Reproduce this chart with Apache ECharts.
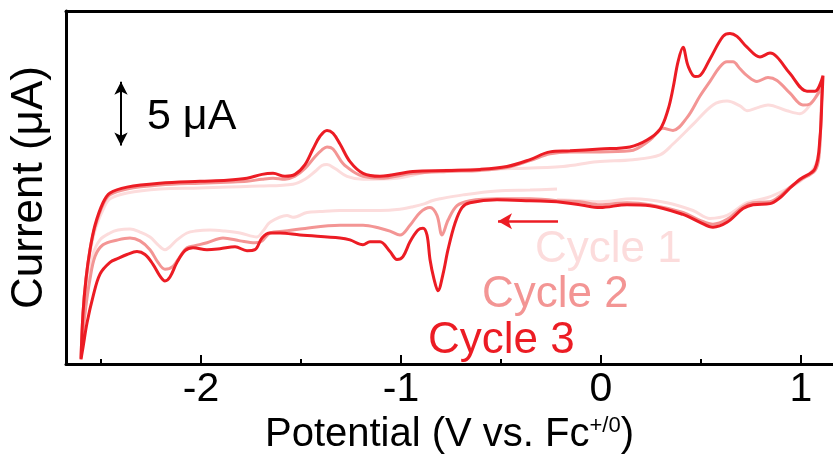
<!DOCTYPE html>
<html>
<head>
<meta charset="utf-8">
<title>Cyclic voltammogram</title>
<script src="https://cdn.jsdelivr.net/npm/echarts@6/dist/echarts.min.js"></script>
<style>
  html, body { margin: 0; padding: 0; background: #fff; }
  #chart { width: 833px; height: 460px; }
</style>
</head>
<body>
<div id="chart"></div>
<script>
// Axis ticks (V vs. Fc+/0)
const majorTicks = [-2, -1, 0, 1];
const minorTicks = [-2.5, -1.5, -0.5, 0.5];

const cycleNames = ['Cycle 1', 'Cycle 2', 'Cycle 3'];
const cycleColors = ['#FCDCDC', '#F39594', '#EC1C24'];

// Each cycle: [potential (V), current (µA)], scanned from -0.22 V negative to -2.6 V,
// then positive to 1.11 V and back to -0.22 V.
const cycle1 = [
  [-0.22,-0.23],[-0.355,-0.31],[-0.52,-0.38],[-0.69,-0.69],[-0.805,-1.0],[-0.845,-1.15],[-0.88,-1.38],[-0.94,-1.62],
  [-1.02,-1.85],[-1.105,-1.92],[-1.19,-1.92],[-1.305,-1.92],[-1.405,-2.0],[-1.47,-2.08],[-1.54,-2.46],[-1.57,-2.31],
  [-1.655,-2.85],[-1.69,-3.54],[-1.72,-4.0],[-1.805,-3.69],[-1.88,-3.54],[-1.955,-3.46],[-2.03,-3.54],[-2.07,-3.69],
  [-2.12,-4.23],[-2.155,-4.77],[-2.18,-5.0],[-2.215,-4.62],[-2.255,-4.0],[-2.305,-3.62],[-2.355,-3.38],[-2.415,-3.46],
  [-2.455,-3.69],[-2.505,-4.23],[-2.54,-5.38],[-2.565,-7.69],[-2.585,-10.77],[-2.6,-13.62],
  [-2.59,-10.0],[-2.575,-7.31],[-2.555,-5.23],[-2.525,-3.23],[-2.485,-1.69],[-2.455,-1.0],[-2.37,-0.54],[-2.205,-0.23],
  [-2.005,-0.15],[-1.705,0],[-1.54,0.15],[-1.48,0.54],[-1.43,1.15],[-1.395,1.62],[-1.37,1.69],[-1.33,1.38],[-1.27,0.77],
  [-1.19,0.54],[-1.02,0.62],[-0.855,1.15],[-0.655,1.31],[-0.44,1.38],[-0.19,1.54],[-0.02,1.92],[0.16,2.08],[0.295,2.46],
  [0.36,3.31],[0.46,4.85],[0.56,6.38],[0.63,6.69],[0.695,6.31],[0.73,5.92],[0.78,6.15],[0.835,6.38],[0.93,5.92],
  [0.995,5.69],[1.06,6.69],[1.105,7.69],
  [1.1,5.38],[1.09,2.69],[1.06,1.31],[0.995,0.38],[0.93,-0.23],[0.83,-0.92],[0.73,-1.31],[0.63,-2.31],[0.545,-2.54],
  [0.46,-1.92],[0.33,-1.31],[0.16,-1.0],[-0.005,-1.23],[-0.105,-1.15],[-0.22,-1.08]
];

const cycle2 = [
  [-0.22,-1.15],[-0.355,-1.0],[-0.52,-1.0],[-0.655,-1.15],[-0.72,-1.54],[-0.765,-2.69],[-0.795,-3.85],[-0.82,-2.31],
  [-0.855,-1.69],[-0.905,-2.08],[-0.955,-3.08],[-1.005,-3.85],[-1.055,-3.54],[-1.105,-3.31],[-1.19,-3.08],[-1.305,-3.08],
  [-1.505,-3.38],[-1.58,-3.54],[-1.655,-3.69],[-1.695,-4.31],[-1.73,-4.46],[-1.805,-4.31],[-1.89,-4.08],[-1.97,-4.46],
  [-2.03,-4.69],[-2.07,-4.85],[-2.105,-5.54],[-2.14,-6.31],[-2.18,-6.54],[-2.215,-6.0],[-2.255,-5.0],[-2.305,-4.31],
  [-2.355,-4.08],[-2.415,-4.23],[-2.49,-4.62],[-2.53,-5.54],[-2.555,-7.31],[-2.58,-10.0],[-2.595,-12.31],[-2.6,-13.54],
  [-2.59,-10.0],[-2.575,-7.31],[-2.555,-5.0],[-2.53,-3.23],[-2.49,-1.46],[-2.455,-0.69],[-2.37,-0.23],[-2.205,0.08],
  [-2.005,0.23],[-1.87,0.31],[-1.77,0.38],[-1.695,0.54],[-1.64,0.62],[-1.58,0.54],[-1.53,0.77],[-1.48,1.38],[-1.43,2.31],
  [-1.395,2.85],[-1.37,3.08],[-1.34,2.92],[-1.29,1.77],[-1.24,1.15],[-1.19,0.77],[-1.105,0.62],[-0.94,1.0],[-0.77,1.15],
  [-0.605,1.23],[-0.47,1.46],[-0.355,2.0],[-0.255,2.54],[-0.155,2.69],[-0.005,2.69],[0.145,2.77],[0.245,3.62],[0.31,4.54],
  [0.36,4.38],[0.43,5.38],[0.495,7.08],[0.545,8.23],[0.595,9.38],[0.63,9.77],[0.66,9.77],[0.695,9.23],[0.73,8.69],
  [0.78,8.23],[0.835,8.54],[0.88,8.31],[0.945,7.31],[1.01,6.38],[1.045,6.46],[1.08,7.15],[1.105,7.85],
  [1.1,5.38],[1.09,2.31],[1.07,1.23],[0.995,0.46],[0.945,-0.08],[0.895,-0.77],[0.845,-1.23],[0.76,-1.31],[0.71,-1.62],
  [0.63,-2.62],[0.56,-3.0],[0.495,-2.69],[0.41,-2.08],[0.245,-1.46],[0.13,-1.31],[-0.005,-1.46],[-0.105,-1.23],[-0.22,-1.15]
];

const cycle3 = [
  [-0.22,-1.23],[-0.355,-1.15],[-0.52,-1.08],[-0.655,-1.31],[-0.695,-1.69],[-0.73,-2.92],[-0.765,-5.0],[-0.79,-6.92],
  [-0.815,-8.23],[-0.835,-7.31],[-0.855,-5.77],[-0.87,-3.85],[-0.89,-3.31],[-0.915,-3.46],[-0.955,-4.38],[-0.99,-5.54],
  [-1.02,-5.77],[-1.055,-5.15],[-1.105,-4.38],[-1.155,-4.38],[-1.19,-4.62],[-1.255,-4.23],[-1.305,-4.08],[-1.505,-3.85],
  [-1.605,-3.69],[-1.655,-3.69],[-1.695,-4.08],[-1.73,-5.0],[-1.77,-5.08],[-1.83,-4.77],[-1.905,-4.92],[-1.97,-5.0],
  [-2.04,-4.85],[-2.08,-5.08],[-2.12,-6.0],[-2.155,-7.15],[-2.18,-7.46],[-2.205,-7.08],[-2.24,-6.15],[-2.28,-5.38],
  [-2.32,-5.15],[-2.37,-5.38],[-2.415,-5.69],[-2.455,-6.0],[-2.505,-6.92],[-2.54,-8.69],[-2.57,-10.77],[-2.59,-12.69],
  [-2.6,-13.62],
  [-2.59,-10.0],[-2.575,-7.31],[-2.555,-5.0],[-2.53,-3.08],[-2.49,-1.31],[-2.455,-0.54],[-2.37,-0.08],[-2.205,0.23],
  [-2.005,0.38],[-1.87,0.46],[-1.77,0.62],[-1.695,0.92],[-1.64,1.0],[-1.58,0.77],[-1.53,0.92],[-1.48,1.69],[-1.44,2.92],
  [-1.405,3.92],[-1.37,4.38],[-1.34,4.15],[-1.305,3.31],[-1.255,1.92],[-1.19,1.0],[-1.105,0.77],[-0.94,1.15],[-0.77,1.23],
  [-0.605,1.31],[-0.47,1.54],[-0.355,2.08],[-0.255,2.69],[-0.155,2.77],[-0.005,2.92],[0.145,3.08],[0.23,3.62],[0.295,4.46],
  [0.335,6.0],[0.36,7.69],[0.385,9.77],[0.41,10.92],[0.435,9.46],[0.47,8.62],[0.495,8.69],[0.545,10.0],[0.61,11.77],
  [0.645,12.0],[0.68,11.77],[0.73,10.92],[0.795,10.15],[0.845,10.46],[0.88,10.15],[0.945,8.85],[1.03,7.46],[1.07,7.46],
  [1.11,8.69],
  [1.105,6.92],[1.095,3.85],[1.07,1.38],[0.995,0.54],[0.945,-0.15],[0.895,-0.92],[0.845,-1.38],[0.76,-1.46],[0.71,-1.77],
  [0.63,-2.85],[0.56,-3.23],[0.495,-2.85],[0.41,-2.23],[0.245,-1.54],[0.13,-1.46],[-0.005,-1.69],[-0.105,-1.46],[-0.22,-1.23]
];

const cycles = [cycle1, cycle2, cycle3];

// 5 µA scale bar and its caption
const scaleBarPotential = -2.4;
const scaleBarCurrent = [3.2, 8.2];
const scaleLabelPoint = [-2.295, 5.46];
// Initial scan direction arrow (points toward negative potential)
const scanArrow = [[-0.215, -2.77], [-0.515, -2.77]];

const FONT = '"Liberation Sans", Arial, Helvetica, sans-serif';

const chart = echarts.init(document.getElementById('chart'), null, { renderer: 'canvas' });

const xBase = {
  type: 'value',
  min: -2.675,
  max: 1.16,
  splitLine: { show: false }
};

const option = {
  animation: false,
  backgroundColor: '#fff',
  grid: { left: 66, right: 0, top: 11, bottom: 88, containLabel: false },
  legend: cycleNames.map((name, i) => ({
    data: [name],
    left: [530, 477, 423][i],
    top: [228, 273, 319][i],
    icon: 'none',
    itemWidth: 0,
    itemHeight: 14,
    padding: 0,
    selectedMode: false,
    textStyle: { fontSize: 44, color: cycleColors[i], fontFamily: FONT }
  })),
  xAxis: [
    Object.assign({}, xBase, {
      position: 'bottom',
      axisLine: { show: true, onZero: false, lineStyle: { color: '#000', width: 3 } },
      axisTick: { show: true, inside: true, length: 9, customValues: majorTicks, lineStyle: { color: '#000', width: 2 } },
      axisLabel: { show: true, customValues: majorTicks, margin: 5, fontSize: 41, color: '#000', fontFamily: FONT },
      name: 'Potential (V vs. Fc{sup|+/0})',
      nameLocation: 'middle',
      nameGap: 48,
      nameTextStyle: {
        fontSize: 40, color: '#000', fontFamily: FONT,
        rich: { sup: { fontSize: 22, color: '#000', fontFamily: FONT, verticalAlign: 'top', lineHeight: 40 } }
      }
    }),
    Object.assign({}, xBase, {
      position: 'bottom',
      axisLine: { show: false, onZero: false },
      axisTick: { show: true, inside: true, length: 5, customValues: minorTicks, lineStyle: { color: '#000', width: 2 } },
      axisLabel: { show: false }
    }),
    Object.assign({}, xBase, {
      position: 'top',
      axisLine: { show: true, onZero: false, lineStyle: { color: '#000', width: 3 } },
      axisTick: { show: false },
      axisLabel: { show: false }
    })
  ],
  yAxis: {
    type: 'value',
    min: -14,
    max: 13.77,
    position: 'left',
    splitLine: { show: false },
    axisLine: { show: true, onZero: false, lineStyle: { color: '#000', width: 3 } },
    axisTick: { show: false },
    axisLabel: { show: false },
    name: 'Current (μA)',
    nameLocation: 'middle',
    nameRotate: 90,
    nameGap: 14,
    nameTextStyle: { fontSize: 44, color: '#000', fontFamily: FONT }
  },
  series: cycles.map((data, i) => ({
    name: cycleNames[i],
    type: 'line',
    xAxisIndex: 0,
    yAxisIndex: 0,
    data: data,
    showSymbol: false,
    symbol: 'none',
    smooth: 0.35,
    silent: true,
    z: 2 + i,
    itemStyle: { color: cycleColors[i] },
    lineStyle: { color: cycleColors[i], width: 3 }
  })).concat([{
    name: 'annotations',
    type: 'scatter',
    data: [scaleLabelPoint],
    symbolSize: 0,
    silent: true,
    z: 10,
    itemStyle: { opacity: 1, color: '#000' },
    label: {
      show: true,
      position: 'right',
      distance: 5,
      formatter: '5 μA',
      fontSize: 43,
      color: '#000',
      opacity: 1,
      fontFamily: FONT
    },
    markLine: {
      silent: true,
      animation: false,
      label: { show: false },
      emphasis: { disabled: true },
      data: [
        [
          { coord: [scaleBarPotential, scaleBarCurrent[0]], symbol: 'arrow', symbolSize: [10, 13],
            lineStyle: { color: '#000', width: 2, type: 'solid', opacity: 1 } },
          { coord: [scaleBarPotential, scaleBarCurrent[1]], symbol: 'arrow', symbolSize: [10, 13] }
        ],
        [
          { coord: scanArrow[0], symbol: 'none',
            lineStyle: { color: cycleColors[2], width: 2.5, type: 'solid', opacity: 1 } },
          { coord: scanArrow[1], symbol: 'arrow', symbolSize: [12, 14] }
        ]
      ]
    }
  }])
};

chart.setOption(option);
</script>
</body>
</html>
